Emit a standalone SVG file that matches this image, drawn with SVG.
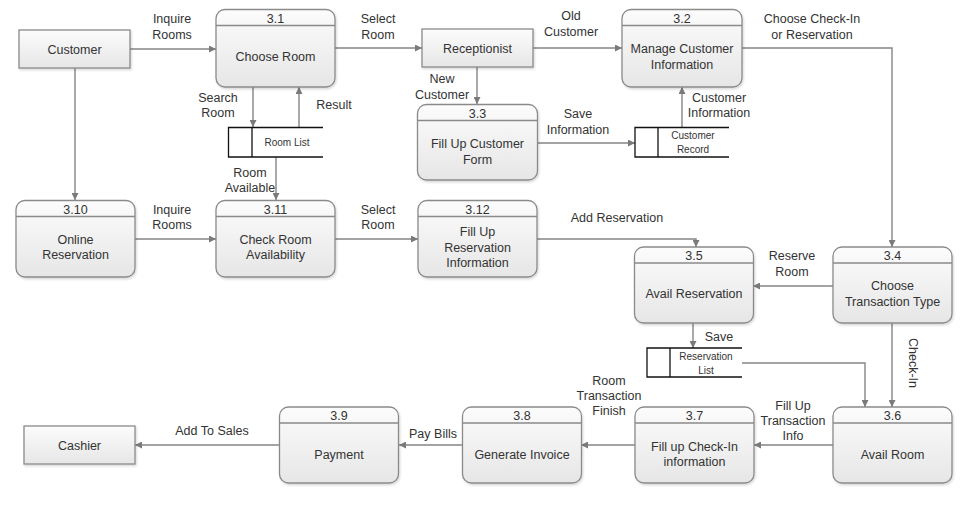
<svg xmlns="http://www.w3.org/2000/svg" width="969" height="506" viewBox="0 0 969 506">
<defs>
<linearGradient id="gp" x1="0" y1="0" x2="0" y2="1">
<stop offset="0" stop-color="#fcfcfc"/>
<stop offset="1" stop-color="#e6e6e6"/>
</linearGradient>
<filter id="sh" x="-10%" y="-10%" width="125%" height="125%">
<feDropShadow dx="1" dy="1.5" stdDeviation="1.2" flood-color="#000" flood-opacity="0.16"/>
</filter>
<marker id="ah" viewBox="0 0 10 10" refX="10" refY="5" markerWidth="7" markerHeight="7" markerUnits="userSpaceOnUse" orient="auto">
<path d="M0,0 L10,5 L0,10 z" fill="#7a7a7a"/>
</marker>
<style>
.proc{fill:url(#gp);stroke:#8a8a8a;stroke-width:1.3;filter:url(#sh)}
.ent{fill:url(#gp);stroke:#8a8a8a;stroke-width:1.3;filter:url(#sh)}
.hdr{stroke:#8a8a8a;stroke-width:1.3;fill:none}
.sline{stroke:#111;stroke-width:1.3;fill:none}
.t{font-family:"Liberation Sans",Arial,sans-serif;font-size:12.5px;fill:#333;text-anchor:middle}
.ts{font-family:"Liberation Sans",Arial,sans-serif;font-size:10px;fill:#333;text-anchor:middle}
.c{fill:none;stroke:#858585;stroke-width:1.4;marker-end:url(#ah)}
</style>
</defs>
<rect width="969" height="506" fill="#fff"/>

<g id="connectors">
<path class="c" d="M130,49 H216"/>
<path class="c" d="M335,48 H422"/>
<path class="c" d="M533,48 H622"/>
<path class="c" d="M477,67 V104"/>
<path class="c" d="M253,87 V127"/>
<path class="c" d="M299,127 V87"/>
<path class="c" d="M276,157 V200"/>
<path class="c" d="M75,68 V200"/>
<path class="c" d="M537,143 H635"/>
<path class="c" d="M682,127 V87"/>
<path class="c" d="M742,48 H892 V247"/>
<path class="c" d="M135,239 H216"/>
<path class="c" d="M335,239 H418"/>
<path class="c" d="M537,239 H696 V247"/>
<path class="c" d="M833,286 H753"/>
<path class="c" d="M693,323 V348"/>
<path class="c" d="M742,363 H865 V407"/>
<path class="c" d="M892,323 V407"/>
<path class="c" d="M833,445 H754"/>
<path class="c" d="M635,445 H581"/>
<path class="c" d="M463,445 H399"/>
<path class="c" d="M279,445 H135"/>
<text class="t" x="172" y="23">Inquire</text>
<text class="t" x="172" y="39">Rooms</text>
<text class="t" x="378" y="23">Select</text>
<text class="t" x="378" y="39">Room</text>
<text class="t" x="571" y="20">Old</text>
<text class="t" x="571" y="36">Customer</text>
<text class="t" x="442" y="83">New</text>
<text class="t" x="442" y="99">Customer</text>
<text class="t" x="218" y="102">Search</text>
<text class="t" x="218" y="117">Room</text>
<text class="t" x="334" y="109">Result</text>
<text class="t" x="250" y="177">Room</text>
<text class="t" x="250" y="192">Available</text>
<text class="t" x="578" y="118">Save</text>
<text class="t" x="578" y="134">Information</text>
<text class="t" x="719" y="102">Customer</text>
<text class="t" x="719" y="117">Information</text>
<text class="t" x="812" y="23">Choose Check-In</text>
<text class="t" x="812" y="39">or Reservation</text>
<text class="t" x="172" y="214">Inquire</text>
<text class="t" x="172" y="229">Rooms</text>
<text class="t" x="378" y="214">Select</text>
<text class="t" x="378" y="229">Room</text>
<text class="t" x="617" y="222">Add Reservation</text>
<text class="t" x="792" y="260">Reserve</text>
<text class="t" x="792" y="276">Room</text>
<text class="t" x="719" y="341">Save</text>
<text class="t" transform="translate(909,363) rotate(90)" x="0" y="0">Check-In</text>
<text class="t" x="793" y="410">Fill Up</text>
<text class="t" x="793" y="425">Transaction</text>
<text class="t" x="793" y="440">Info</text>
<text class="t" x="609" y="385">Room</text>
<text class="t" x="609" y="400">Transaction</text>
<text class="t" x="609" y="415">Finish</text>
<text class="t" x="433" y="438">Pay Bills</text>
<text class="t" x="212" y="435">Add To Sales</text>
</g>

<g id="customer">
<rect class="ent" x="19" y="30" width="111" height="38"/>
<text class="t" x="74.5" y="53.5">Customer</text>
</g>
<g id="receptionist">
<rect class="ent" x="422" y="29" width="111" height="38"/>
<text class="t" x="477.5" y="52.5">Receptionist</text>
</g>
<g id="cashier">
<rect class="ent" x="24" y="426" width="111" height="38"/>
<text class="t" x="79.5" y="449.5">Cashier</text>
</g>

<g id="p3_1">
<rect class="proc" x="216" y="9.5" width="119" height="77.5" rx="9"/>
<line class="hdr" x1="216" y1="25.5" x2="335" y2="25.5"/>
<text class="t" x="275.5" y="22.5">3.1</text>
<text class="t" x="275.5" y="61">Choose Room</text>
</g>
<g id="p3_2">
<rect class="proc" x="622" y="9.5" width="120" height="77.5" rx="9"/>
<line class="hdr" x1="622" y1="25.5" x2="742" y2="25.5"/>
<text class="t" x="682" y="22.5">3.2</text>
<text class="t" x="682" y="52.5">Manage Customer</text>
<text class="t" x="682" y="68.5">Information</text>
</g>
<g id="p3_3">
<rect class="proc" x="417.5" y="104.5" width="120" height="75.5" rx="9"/>
<line class="hdr" x1="417.5" y1="120.5" x2="537.5" y2="120.5"/>
<text class="t" x="477.5" y="117.5">3.3</text>
<text class="t" x="477.5" y="148">Fill Up Customer</text>
<text class="t" x="477.5" y="164">Form</text>
</g>
<g id="p3_10">
<rect class="proc" x="16" y="200.5" width="119" height="76.5" rx="9"/>
<line class="hdr" x1="16" y1="216.5" x2="135" y2="216.5"/>
<text class="t" x="75.5" y="213.5">3.10</text>
<text class="t" x="75.5" y="244">Online</text>
<text class="t" x="75.5" y="259">Reservation</text>
</g>
<g id="p3_11">
<rect class="proc" x="216" y="200.5" width="119" height="76.5" rx="9"/>
<line class="hdr" x1="216" y1="216.5" x2="335" y2="216.5"/>
<text class="t" x="275.5" y="213.5">3.11</text>
<text class="t" x="275.5" y="244">Check Room</text>
<text class="t" x="275.5" y="259">Availability</text>
</g>
<g id="p3_12">
<rect class="proc" x="418" y="200.5" width="119" height="76.5" rx="9"/>
<line class="hdr" x1="418" y1="216.5" x2="537" y2="216.5"/>
<text class="t" x="477.5" y="213.5">3.12</text>
<text class="t" x="477.5" y="236">Fill Up</text>
<text class="t" x="477.5" y="251.5">Reservation</text>
<text class="t" x="477.5" y="266.5">Information</text>
</g>
<g id="p3_5">
<rect class="proc" x="634.5" y="247" width="119" height="76" rx="9"/>
<line class="hdr" x1="634.5" y1="263" x2="753.5" y2="263"/>
<text class="t" x="694" y="260">3.5</text>
<text class="t" x="694" y="297.5">Avail Reservation</text>
</g>
<g id="p3_4">
<rect class="proc" x="833" y="247" width="119" height="76" rx="9"/>
<line class="hdr" x1="833" y1="263" x2="952" y2="263"/>
<text class="t" x="892.5" y="260">3.4</text>
<text class="t" x="892.5" y="289.5">Choose</text>
<text class="t" x="892.5" y="305.5">Transaction Type</text>
</g>
<g id="p3_6">
<rect class="proc" x="833" y="407" width="119" height="76" rx="9"/>
<line class="hdr" x1="833" y1="423" x2="952" y2="423"/>
<text class="t" x="892.5" y="420">3.6</text>
<text class="t" x="892.5" y="458.5">Avail Room</text>
</g>
<g id="p3_7">
<rect class="proc" x="635" y="407" width="119" height="76" rx="9"/>
<line class="hdr" x1="635" y1="423" x2="754" y2="423"/>
<text class="t" x="694.5" y="420">3.7</text>
<text class="t" x="694.5" y="451">Fill up Check-In</text>
<text class="t" x="694.5" y="466">information</text>
</g>
<g id="p3_8">
<rect class="proc" x="462.5" y="407" width="119" height="76" rx="9"/>
<line class="hdr" x1="462.5" y1="423" x2="581.5" y2="423"/>
<text class="t" x="522" y="420">3.8</text>
<text class="t" x="522" y="458.5">Generate Invoice</text>
</g>
<g id="p3_9">
<rect class="proc" x="279.5" y="407" width="119" height="76" rx="9"/>
<line class="hdr" x1="279.5" y1="423" x2="398.5" y2="423"/>
<text class="t" x="339" y="420">3.9</text>
<text class="t" x="339" y="458.5">Payment</text>
</g>

<g id="ds_room_list">
<rect x="228.5" y="127.5" width="95" height="29.5" fill="#fff"/>
<path class="sline" d="M323,127.5 H228.5 V157 H323 M252,127.5 V157"/>
<text class="ts" x="287" y="145.5">Room List</text>
</g>
<g id="ds_customer_record">
<rect x="635" y="127.5" width="94" height="29.5" fill="#fff"/>
<path class="sline" d="M729,127.5 H635 V157 H729 M658,127.5 V157"/>
<text class="ts" x="693" y="138.5">Customer</text>
<text class="ts" x="693" y="152.5">Record</text>
</g>
<g id="ds_reservation_list">
<rect x="647" y="348" width="95" height="29" fill="#fff"/>
<path class="sline" d="M742,348 H647 V377 H742 M670,348 V377"/>
<text class="ts" x="706" y="359.5">Reservation</text>
<text class="ts" x="706" y="373.5">List</text>
</g>
</svg>
